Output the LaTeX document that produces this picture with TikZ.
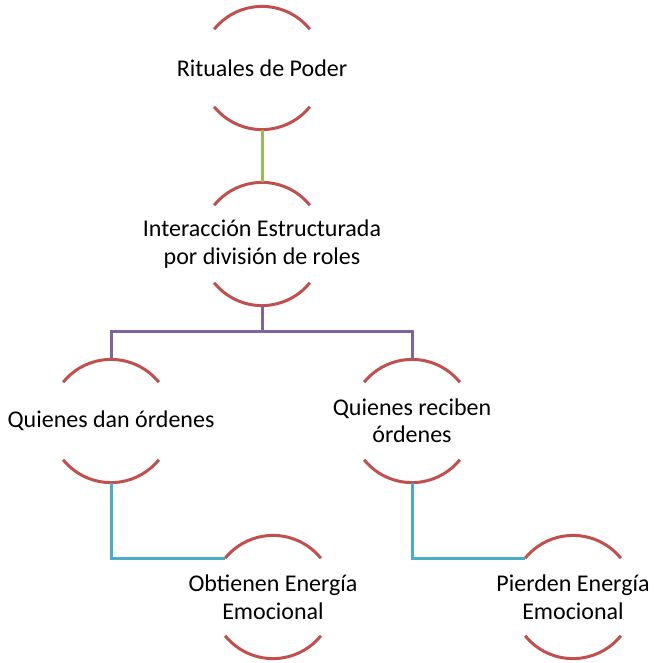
\documentclass[tikz,border=0pt]{standalone}
\usepackage{fontspec}
\setmainfont{Carlito}
\usepackage{tikz}

\definecolor{arcred}{HTML}{C0504D}
\definecolor{lnkgreen}{HTML}{9BBB59}
\definecolor{lnkpurple}{HTML}{8064A2}
\definecolor{lnkblue}{HTML}{4BACC6}

\tikzset{
    rolenode/.style={align=center,inner sep=0pt,font=\fontsize{24}{27.5}\selectfont},
    arcline/.style={draw=arcred,line width=3pt},
    link/.style={line width=3pt}
}
\newcommand{\rad}{61.6pt}

\begin{document}
\begin{tikzpicture}[x=1pt,y=1pt]
    \useasboundingbox (0,0) rectangle (653,-663);
    \node[rolenode] (poder) at (262,-68) {Rituales de Poder};
    \node[rolenode] (inter) at (262,-244) {Interacción Estructurada\\por división de roles};
    \node[rolenode] (dan) at (111,-421) {Quienes dan órdenes};
    \node[rolenode] (reciben) at (412,-421) {Quienes reciben\\órdenes};
    \node[rolenode] (obtienen) at (273,-597) {Obtienen Energía\\Emocional};
    \node[rolenode] (pierden) at (573,-597) {Pierden Energía\\Emocional};
    % arcs above and below each text
    \foreach \n in {poder,inter,dan,reciben,obtienen,pierden}{
        \draw[arcline] ([shift={(39:\rad)}]\n.center) arc[start angle=39,end angle=141,radius=\rad];
        \draw[arcline] ([shift={(219:\rad)}]\n.center) arc[start angle=219,end angle=321,radius=\rad];
    }
    % connectors
    \draw[link,lnkgreen] ([yshift=-\rad]poder.center) -- ([yshift=\rad]inter.center);
    \draw[link,lnkpurple] ([yshift=-\rad]inter.center) -- ++(0,-26) -| ([yshift=\rad]dan.center);
    \draw[link,lnkpurple] ([yshift=-\rad]inter.center) -- ++(0,-26) -| ([yshift=\rad]reciben.center);
    \draw[link,lnkblue] ([yshift=-\rad]dan.center) |- ([shift={(141:\rad)}]obtienen.center);
    \draw[link,lnkblue] ([yshift=-\rad]reciben.center) |- ([shift={(141:\rad)}]pierden.center);
\end{tikzpicture}
\end{document}
